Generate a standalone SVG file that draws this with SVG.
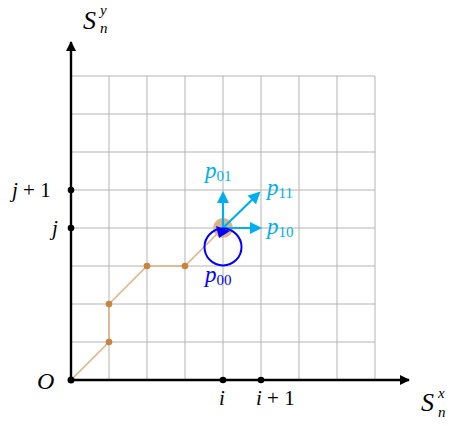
<svg xmlns="http://www.w3.org/2000/svg" width="454" height="426" viewBox="0 0 454 426">
<style>
.grid{stroke:#b3b3b3;stroke-width:1;fill:none}
.axis{stroke:#000;stroke-width:2.4;fill:none}
.path{stroke:#deb287;stroke-width:1.6;fill:none}
.dot{fill:#c8843c}
.cy{stroke:#00aeef;stroke-width:2.2;fill:none}
.m{font-family:'Liberation Serif',serif;font-style:italic}
.r{font-family:'Liberation Serif',serif}
.t{font-family:'Liberation Serif',serif;font-size:21px;fill:#000}
.c{fill:#00aeef}
</style>
<defs>
<marker id="ak" markerWidth="10" markerHeight="10" refX="9" refY="5" orient="auto" markerUnits="userSpaceOnUse" viewBox="0 0 10 10"><path d="M0,0 L10,5 L0,10 Z" fill="#000"/></marker>
<marker id="ac" markerWidth="12" markerHeight="12" refX="10" refY="6" orient="auto" markerUnits="userSpaceOnUse" viewBox="0 0 12 12"><path d="M0,0 L12,6 L0,12 Z" fill="#00aeef"/></marker>
</defs>
<g id="grid" class="grid">
<path d="M71,76H375M71,114H375M71,152H375M71,190H375M71,228H375M71,266H375M71,304H375M71,342H375"/>
<path d="M109,76V380M147,76V380M185,76V380M223,76V380M261,76V380M299,76V380M337,76V380M375,76V380"/>
</g>
<g id="walk">
<polyline class="path" points="71,380 109,342 109,304 147,266 185,266 223,228"/>
<circle class="dot" cx="109" cy="342" r="3.3"/>
<circle class="dot" cx="109" cy="304" r="3.3"/>
<circle class="dot" cx="147" cy="266" r="3.3"/>
<circle class="dot" cx="185" cy="266" r="3.3"/>
<circle cx="223" cy="228" r="10" fill="#dcb48c"/>
</g>
<g id="connectors">
<line class="axis" x1="71" y1="380" x2="71" y2="42" marker-end="url(#ak)"/>
<line class="axis" x1="71" y1="380" x2="409" y2="380" marker-end="url(#ak)"/>
<line class="cy" x1="223" y1="228" x2="223" y2="193" marker-end="url(#ac)"/>
<line class="cy" x1="223" y1="228" x2="260" y2="228" marker-end="url(#ac)"/>
<line class="cy" x1="223" y1="228" x2="259" y2="193" marker-end="url(#ac)"/>
</g>
<g id="loop">
<circle cx="223" cy="247" r="18.5" fill="none" stroke="#0000ff" stroke-width="2"/>
<path d="M230,231 L216,226 L219,238 Z" fill="#0000ff"/>
</g>
<g id="ticks">
<circle cx="71" cy="380" r="3.5"/>
<circle cx="71" cy="190" r="3.3"/>
<circle cx="71" cy="228" r="3.3"/>
<circle cx="223" cy="380" r="3.3"/>
<circle cx="261" cy="380" r="3.3"/>
</g>
<g id="labels">
<text class="m" x="83" y="29" font-size="26">S</text>
<text class="m" x="100" y="15" font-size="15">y</text>
<text class="m" x="100" y="33" font-size="15">n</text>
<text class="m" x="421" y="411" font-size="26">S</text>
<text class="m" x="438" y="398" font-size="15">x</text>
<text class="m" x="438" y="417" font-size="15">n</text>
<text class="m" x="37" y="389" font-size="24">O</text>
<text class="t" x="12" y="197"><tspan class="m">j</tspan> + 1</text>
<text class="m" x="52" y="235" font-size="21">j</text>
<text class="m" x="219" y="405" font-size="21">i</text>
<text class="t" x="256" y="405"><tspan class="m">i</tspan> + 1</text>
<g class="c">
<text x="205" y="178"><tspan class="m" font-size="23">p</tspan><tspan class="r" font-size="15" dy="3">01</tspan></text>
<text x="267" y="195"><tspan class="m" font-size="23">p</tspan><tspan class="r" font-size="15" dy="3">11</tspan></text>
<text x="267" y="234"><tspan class="m" font-size="23">p</tspan><tspan class="r" font-size="15" dy="3">10</tspan></text>
</g>
<text x="205" y="282" fill="#0000ff"><tspan class="m" font-size="23">p</tspan><tspan class="r" font-size="15" dy="3">00</tspan></text>
</g>
</svg>
